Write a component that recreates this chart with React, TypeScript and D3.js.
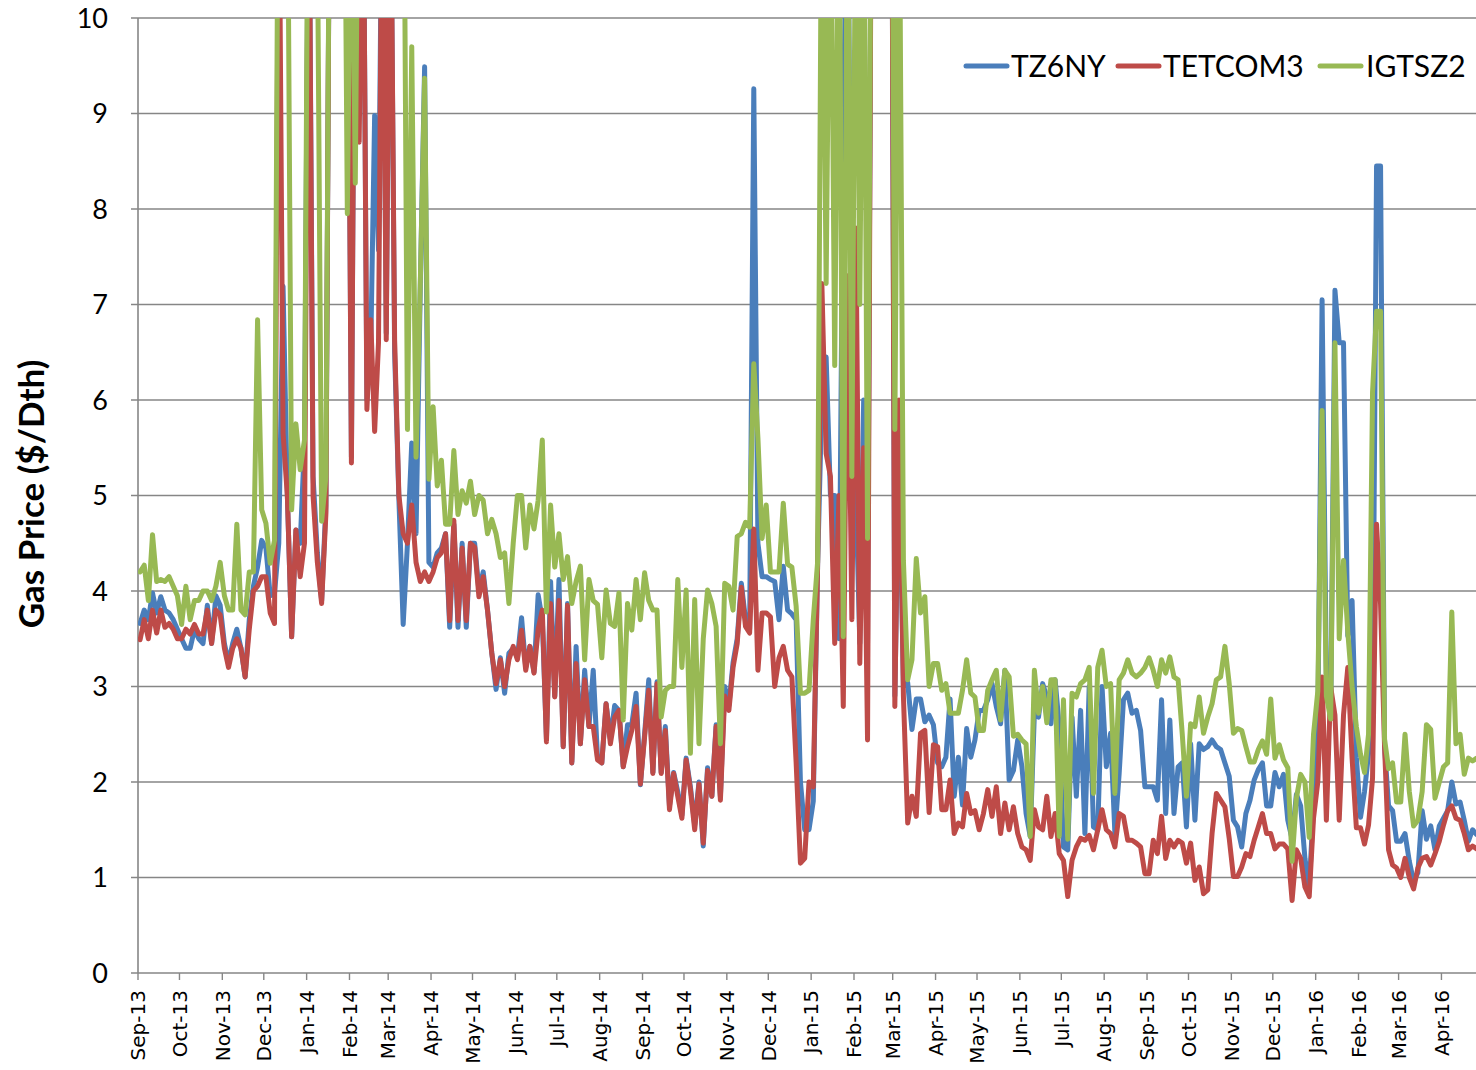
import React from "react";
import * as d3 from "d3";

// ---------- data ----------
const monthLabels = [
  "Sep-13", "Oct-13", "Nov-13", "Dec-13", "Jan-14", "Feb-14", "Mar-14", "Apr-14",
  "May-14", "Jun-14", "Jul-14", "Aug-14", "Sep-14", "Oct-14", "Nov-14", "Dec-14",
  "Jan-15", "Feb-15", "Mar-15", "Apr-15", "May-15", "Jun-15", "Jul-15", "Aug-15",
  "Sep-15", "Oct-15", "Nov-15", "Dec-15", "Jan-16", "Feb-16", "Mar-16", "Apr-16",
];
const samplesPerMonth = 10;
const yTicks = [0, 1, 2, 3, 4, 5, 6, 7, 8, 9, 10];
const seriesNames = ["TZ6NY", "TETCOM3", "IGTSZ2"];
const seriesColors = ["#4A7EBB", "#BE4B48", "#98B954"];

// values per month (about every 3 days), $/Dth
const tz6ny: number[][] = [
  [3.66, 3.8, 3.7, 3.98, 3.77, 3.94, 3.8, 3.77, 3.7, 3.6],
  [3.5, 3.4, 3.4, 3.6, 3.5, 3.45, 3.85, 3.45, 3.95, 3.85],
  [3.45, 3.25, 3.45, 3.6, 3.4, 3.1, 3.7, 4.05, 4.25, 4.53],
  [4.45, 3.95, 3.97, 4.5, 7.19, 5.0, 3.52, 4.64, 4.5, 5.55],
  [12, 5.2, 4.4, 3.9, 4.9, 13, 15, 15, 14, 12],
  [5.4, 12, 9.0, 12, 6.0, 6.55, 8.98, 7.57, 12, 6.7],
  [12, 6.5, 4.96, 3.65, 4.5, 5.55, 4.6, 7.2, 9.49, 4.3],
  [4.25, 4.4, 4.45, 4.6, 3.62, 4.7, 3.62, 4.5, 3.62, 4.5],
  [4.5, 4.0, 4.2, 3.8, 3.35, 2.97, 3.3, 2.93, 3.35, 3.4],
  [3.3, 3.72, 3.2, 3.42, 3.15, 3.96, 3.7, 2.45, 4.1, 2.9],
  [4.12, 2.37, 3.87, 2.2, 3.42, 2.4, 3.17, 2.58, 3.17, 2.25],
  [2.2, 2.82, 2.45, 2.8, 2.75, 2.16, 2.6, 2.6, 2.93, 1.97],
  [2.5, 3.07, 2.1, 3.05, 2.1, 2.58, 1.75, 2.1, 1.9, 1.65],
  [2.25, 1.95, 1.55, 2.0, 1.33, 2.15, 1.85, 2.6, 1.85, 3.0],
  [2.8, 3.25, 3.5, 4.08, 3.7, 3.6, 9.26, 4.5, 4.15, 4.15],
  [4.12, 4.1, 3.7, 4.26, 3.8, 3.76, 3.7, 2.0, 1.5, 1.5],
  [1.8, 4.25, 6.0, 6.45, 5.0, 5.0, 3.5, 8.78, 12, 5.5],
  [5.0, 3.45, 6.0, 3.45, 12, 15, 15, 15, 15, 15],
  [2.9, 5.5, 3.0, 3.04, 2.55, 2.87, 2.87, 2.63, 2.7, 2.6],
  [2.2, 2.16, 2.26, 2.87, 1.85, 2.26, 1.76, 2.56, 2.26, 2.44],
  [2.75, 2.75, 2.86, 3.03, 2.79, 2.61, 3.17, 2.02, 2.12, 2.44],
  [2.16, 1.67, 1.43, 2.72, 2.68, 3.03, 2.89, 2.61, 3.07, 2.58],
  [1.32, 1.29, 2.68, 1.85, 2.75, 1.46, 3.0, 1.53, 1.5, 3.0],
  [2.16, 2.51, 1.46, 2.09, 2.86, 2.93, 2.72, 2.75, 2.54, 1.95],
  [1.95, 1.95, 1.81, 2.86, 1.67, 2.65, 1.67, 2.16, 2.2, 1.53],
  [2.4, 1.6, 2.4, 2.34, 2.37, 2.44, 2.37, 2.34, 2.2, 2.06],
  [1.6, 1.53, 1.32, 1.67, 1.81, 2.02, 2.13, 2.2, 1.75, 1.75],
  [2.1, 1.95, 2.08, 1.6, 1.4, 1.87, 1.75, 1.2, 0.9, 1.75],
  [2.55, 7.05, 3.1, 2.66, 7.15, 6.6, 6.6, 3.53, 3.9, 2.26],
  [1.63, 1.9, 2.3, 2.58, 8.45, 8.45, 2.37, 1.75, 1.7, 1.38],
  [1.38, 1.46, 1.17, 0.96, 1.05, 1.7, 1.4, 1.54, 1.29, 1.54],
  [1.62, 1.7, 2.0, 1.77, 1.79, 1.6, 1.38, 1.5, 1.45],
];

const tetcom3: number[][] = [
  [3.49, 3.7, 3.5, 3.8, 3.56, 3.8, 3.62, 3.66, 3.6, 3.5],
  [3.5, 3.6, 3.55, 3.65, 3.55, 3.55, 3.8, 3.45, 3.8, 3.75],
  [3.4, 3.2, 3.4, 3.5, 3.4, 3.1, 3.6, 4.0, 4.05, 4.15],
  [4.15, 3.77, 3.66, 12, 5.65, 5.0, 3.52, 4.64, 4.15, 4.5],
  [12, 5.0, 4.3, 3.87, 4.81, 13, 15, 15, 14, 12],
  [5.34, 12, 8.7, 12, 5.9, 6.84, 5.67, 6.6, 12, 6.63],
  [12, 6.63, 5.0, 4.6, 4.5, 4.9, 4.3, 4.1, 4.2, 4.1],
  [4.2, 4.35, 4.4, 4.6, 3.69, 4.74, 3.69, 4.45, 3.69, 4.5],
  [4.46, 3.94, 4.15, 3.8, 3.35, 3.03, 3.28, 3.0, 3.28, 3.42],
  [3.28, 3.59, 3.17, 3.42, 3.14, 3.6, 3.8, 2.42, 3.87, 2.89],
  [3.9, 2.37, 3.85, 2.2, 3.24, 2.4, 3.07, 2.58, 2.58, 2.23],
  [2.2, 2.82, 2.4, 2.68, 2.75, 2.16, 2.37, 2.54, 2.79, 1.98],
  [2.47, 2.96, 2.09, 3.03, 2.09, 2.54, 1.71, 2.09, 1.85, 1.62],
  [2.23, 1.92, 1.5, 1.98, 1.36, 2.12, 1.85, 2.58, 1.81, 2.9],
  [2.75, 3.2, 3.45, 4.04, 3.63, 3.56, 4.65, 3.17, 3.77, 3.77],
  [3.73, 3.0, 3.3, 3.42, 3.17, 3.1, 2.2, 1.15, 1.2, 2.0],
  [1.95, 4.25, 7.22, 5.44, 5.2, 3.45, 5.0, 2.79, 7.3, 3.7],
  [7.8, 3.24, 5.5, 2.44, 12, 15, 15, 15, 15, 15],
  [2.79, 6.0, 2.9, 1.57, 1.85, 1.64, 2.51, 2.54, 1.68, 2.39],
  [2.37, 1.71, 1.71, 2.02, 1.46, 1.57, 1.53, 1.88, 1.67, 1.7],
  [1.5, 1.67, 1.92, 1.64, 1.95, 1.46, 1.78, 1.5, 1.74, 1.46],
  [1.32, 1.29, 1.18, 1.71, 1.53, 1.5, 1.85, 1.43, 1.67, 1.25],
  [1.18, 0.8, 1.18, 1.32, 1.41, 1.39, 1.44, 1.29, 1.5, 1.71],
  [1.5, 1.46, 1.32, 1.67, 1.64, 1.39, 1.39, 1.36, 1.32, 1.04],
  [1.04, 1.39, 1.25, 1.64, 1.2, 1.39, 1.32, 1.39, 1.36, 1.15],
  [1.36, 0.97, 1.11, 0.83, 0.87, 1.46, 1.88, 1.81, 1.74, 1.41],
  [1.01, 1.01, 1.11, 1.25, 1.22, 1.39, 1.53, 1.67, 1.46, 1.46],
  [1.3, 1.35, 1.35, 1.3, 0.76, 1.29, 1.2, 0.9, 0.8, 1.62],
  [2.0, 3.1, 1.6, 3.0, 2.7, 1.6, 2.7, 3.2, 2.25, 1.52],
  [1.52, 1.35, 1.55, 2.04, 4.7, 3.86, 2.37, 1.29, 1.13, 1.1],
  [1.0, 1.2, 1.0, 0.88, 1.1, 1.2, 1.22, 1.13, 1.25, 1.38],
  [1.55, 1.7, 1.75, 1.62, 1.6, 1.46, 1.29, 1.33, 1.3],
];

const igtsz2: number[][] = [
  [4.2, 4.27, 3.9, 4.59, 4.1, 4.12, 4.1, 4.15, 4.05, 3.95],
  [3.65, 4.05, 3.7, 3.9, 3.9, 4.0, 4.0, 3.9, 4.05, 4.3],
  [3.95, 3.8, 3.8, 4.7, 3.8, 3.75, 4.2, 4.2, 6.84, 4.85],
  [4.71, 4.29, 4.53, 13, 14, 12, 4.85, 5.75, 5.27, 5.58],
  [13, 14, 11, 4.73, 5.2, 13, 15, 15, 14, 7.95],
  [12, 8.27, 13, 15, 15, 15, 15, 15, 15, 15],
  [15, 15, 14, 13, 5.69, 9.7, 5.4, 7.24, 9.37, 5.17],
  [5.93, 5.1, 5.37, 4.7, 4.7, 5.47, 4.8, 5.05, 4.92, 5.15],
  [4.8, 5.0, 4.95, 4.6, 4.75, 4.6, 4.35, 4.4, 3.87, 4.5],
  [5.0, 5.0, 4.45, 4.9, 4.65, 4.95, 5.58, 3.78, 4.9, 4.25],
  [4.6, 4.12, 4.36, 3.87, 4.1, 4.26, 3.28, 4.12, 3.9, 3.86],
  [3.3, 4.01, 3.66, 3.63, 3.98, 2.65, 3.87, 3.59, 4.12, 3.7],
  [4.19, 3.9, 3.8, 3.8, 2.68, 2.96, 3.0, 3.0, 4.12, 3.2],
  [4.01, 2.3, 3.91, 2.4, 3.5, 4.01, 3.87, 3.63, 2.4, 4.08],
  [4.05, 3.8, 4.57, 4.6, 4.72, 4.67, 6.38, 5.6, 4.55, 4.9],
  [4.2, 4.2, 4.2, 4.92, 4.28, 4.25, 3.84, 2.93, 2.93, 2.96],
  [3.7, 4.3, 12, 7.22, 12, 6.36, 12, 3.52, 12, 5.2],
  [12, 7.0, 12, 4.55, 12, 15, 15, 15, 15, 15],
  [5.69, 12, 4.32, 3.07, 3.28, 4.34, 3.77, 3.94, 3.0, 3.24],
  [3.24, 2.96, 3.03, 2.72, 2.72, 2.72, 2.96, 3.28, 2.93, 2.89],
  [2.54, 2.54, 2.96, 3.07, 3.17, 2.65, 3.17, 3.1, 2.48, 2.5],
  [2.44, 2.4, 1.43, 3.17, 2.72, 3.0, 2.62, 3.07, 3.07, 1.43],
  [2.86, 1.4, 2.93, 2.89, 3.03, 3.07, 3.2, 1.88, 3.2, 3.38],
  [3.0, 3.03, 1.88, 3.07, 3.14, 3.28, 3.14, 3.1, 3.14, 3.2],
  [3.3, 3.17, 3.0, 3.28, 3.14, 3.31, 3.1, 3.07, 2.5, 1.85],
  [2.61, 2.58, 2.89, 2.51, 2.68, 2.82, 3.07, 3.1, 3.42, 3.03],
  [2.51, 2.56, 2.54, 2.37, 2.21, 2.21, 2.34, 2.43, 2.29, 2.87],
  [2.25, 2.39, 2.23, 2.15, 1.17, 1.83, 2.08, 2.0, 1.42, 2.5],
  [2.95, 5.89, 2.9, 2.66, 6.6, 3.5, 4.32, 3.57, 3.0, 2.58],
  [2.29, 2.1, 2.5, 6.08, 6.93, 6.93, 2.45, 2.14, 2.2, 1.79],
  [1.79, 2.5, 1.9, 1.54, 1.6, 1.9, 2.6, 2.55, 1.83, 2.0],
  [2.16, 2.2, 3.78, 2.4, 2.5, 2.08, 2.25, 2.22, 2.25],
];

const seriesData = [tz6ny, tetcom3, igtsz2];

// ---------- layout ----------
const W = 1476;
const H = 1070;
const plotLeft = 138;
const plotRight = 1476;
const plotTop = 18;
const plotBottom = 973;
const axisColor = "#868686";

type Pt = { date: Date; v: number };

export default function App() {
  const startDate = new Date(2013, 8, 1);
  const endDate = new Date(2016, 3, 26);
  const x = d3.scaleTime().domain([startDate, endDate]).range([plotLeft, plotRight]);
  const y = d3.scaleLinear().domain([0, 10]).range([plotBottom, plotTop]);

  const months = d3.timeMonth.range(startDate, new Date(2016, 4, 1));

  const toPoints = (series: number[][]): Pt[] =>
    series.flatMap((vals, i) => {
      const s = months[i];
      const e = d3.timeMonth.offset(s, 1);
      const len = +e - +s;
      return vals.map((v, j) => ({
        date: new Date(+s + ((j + 0.5) * len) / samplesPerMonth),
        v,
      }));
    });

  const line = d3
    .line<Pt>()
    .x((d) => x(d.date))
    .y((d) => y(d.v));

  const legendItems = [
    { lx: 966, tx: 1011 },
    { lx: 1118, tx: 1163 },
    { lx: 1320, tx: 1366 },
  ];

  return (
    <div style={{ position: "absolute", left: 0, top: 0 }}>
      <svg width={W} height={H} style={{ display: "block", background: "#fff" }}>
        <defs>
          <clipPath id="plotClip">
            <rect x={plotLeft} y={plotTop} width={plotRight - plotLeft} height={plotBottom - plotTop} />
          </clipPath>
        </defs>

        {/* gridlines + y ticks */}
        {yTicks.map((t) => (
          <g key={t}>
            {t > 0 && (
              <line x1={plotLeft - 7} x2={plotRight} y1={y(t)} y2={y(t)} stroke={axisColor} strokeWidth={1.4} />
            )}
            <text
              x={108}
              y={y(t)}
              dy="0.36em"
              textAnchor="end"
              fontFamily="Lato, 'Open Sans', sans-serif"
              fontSize={27}
              fill="#000"
            >
              {t}
            </text>
          </g>
        ))}

        {/* axes */}
        <line x1={plotLeft} x2={plotLeft} y1={plotTop} y2={plotBottom} stroke={axisColor} strokeWidth={1.6} />
        <line x1={plotLeft - 7} x2={plotRight} y1={plotBottom} y2={plotBottom} stroke={axisColor} strokeWidth={1.6} />

        {/* x ticks & labels */}
        {months.map((m, i) => (
          <g key={i}>
            <line x1={x(m)} x2={x(m)} y1={plotBottom} y2={plotBottom + 7} stroke={axisColor} strokeWidth={1.4} />
            <text
              transform={`translate(${x(m)},${990}) rotate(-90)`}
              dy="0.36em"
              textAnchor="end"
              fontFamily="'DejaVu Sans', Verdana, sans-serif"
              fontSize={20}
              fill="#000"
            >
              {monthLabels[i]}
            </text>
          </g>
        ))}

        {/* series */}
        <g clipPath="url(#plotClip)">
          {seriesData.map((s, i) => (
            <path
              key={seriesNames[i]}
              d={line(toPoints(s)) || ""}
              fill="none"
              stroke={seriesColors[i]}
              strokeWidth={5}
              strokeLinejoin="round"
              strokeLinecap="round"
            />
          ))}
        </g>

        {/* y axis title */}
        <text
          transform={`translate(44,${494}) rotate(-90)`}
          textAnchor="middle"
          fontFamily="Lato, 'Open Sans', sans-serif"
          fontWeight="bold"
          fontSize={35}
          fill="#000"
        >
          Gas Price ($/Dth)
        </text>

        {/* legend */}
        {seriesNames.map((n, i) => (
          <g key={n}>
            <line
              x1={legendItems[i].lx}
              x2={legendItems[i].lx + 41}
              y1={66}
              y2={66}
              stroke={seriesColors[i]}
              strokeWidth={5}
              strokeLinecap="round"
            />
            <text
              x={legendItems[i].tx}
              y={66}
              dy="0.36em"
              fontFamily="Lato, 'Open Sans', sans-serif"
              fontSize={30}
              fill="#000"
            >
              {n}
            </text>
          </g>
        ))}
      </svg>
    </div>
  );
}
